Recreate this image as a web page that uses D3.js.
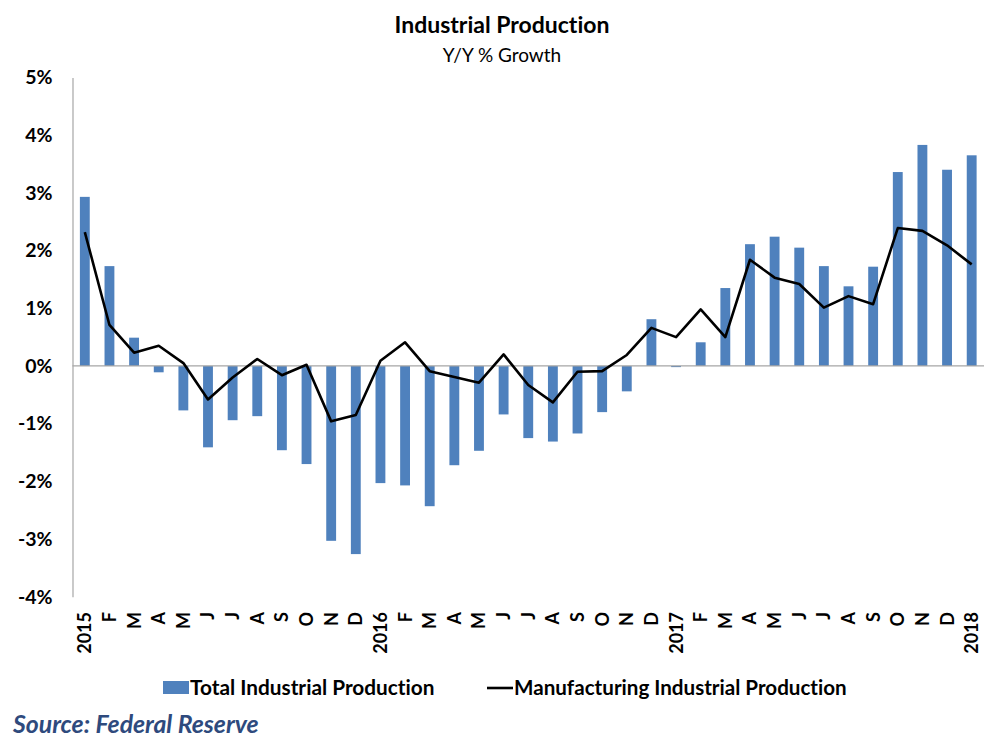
<!DOCTYPE html>
<html>
<head>
<meta charset="utf-8">
<script src="https://cdn.jsdelivr.net/npm/d3@7"></script>
<style>
  body { margin: 0; background: #fff; }
  svg { font-family: Lato, "Open Sans", sans-serif; font-variant-ligatures: none; }
</style>
</head>
<body>
<svg width="1000" height="756"></svg>
<script>
// month labels along the bottom
var months = ["2015", "F", "M", "A", "M", "J", "J", "A", "S", "O", "N", "D",
              "2016", "F", "M", "A", "M", "J", "J", "A", "S", "O", "N", "D",
              "2017", "F", "M", "A", "M", "J", "J", "A", "S", "O", "N", "D",
              "2018"];

// Y/Y % growth, total industrial production (bars)
var totalIP = [2.93, 1.73, 0.49, -0.11, -0.77, -1.41, -0.94, -0.87, -1.46, -1.70, -3.03, -3.26,
               -2.03, -2.07, -2.43, -1.72, -1.47, -0.84, -1.25, -1.31, -1.17, -0.80, -0.44, 0.81,
               -0.02, 0.41, 1.35, 2.11, 2.24, 2.05, 1.73, 1.38, 1.72, 3.36, 3.83, 3.40,
               3.65];

// Y/Y % growth, manufacturing industrial production (line)
var mfgIP = [2.32, 0.71, 0.23, 0.35, 0.05, -0.58, -0.20, 0.12, -0.16, 0.02, -0.96, -0.85,
             0.09, 0.41, -0.09, -0.19, -0.29, 0.20, -0.33, -0.63, -0.10, -0.09, 0.19, 0.66,
             0.50, 0.98, 0.50, 1.84, 1.53, 1.42, 1.01, 1.21, 1.07, 2.39, 2.34, 2.09,
             1.76];

var yTicks = [5, 4, 3, 2, 1, 0, -1, -2, -3, -4];

var svg = d3.select("svg");
var idx = d3.range(months.length);

var x = d3.scaleBand()
    .domain(idx)
    .range([72.5, 984])
    .paddingInner(0.6)
    .paddingOuter(0.3);

var y = d3.scaleLinear()
    .domain([-4, 5])
    .range([596.8, 77.4]);

function cx(i) { return x(i) + x.bandwidth() / 2; }

// titles
svg.append("text")
    .attr("x", 502).attr("y", 33)
    .attr("text-anchor", "middle")
    .attr("font-size", 23).attr("font-weight", "bold")
    .text("Industrial Production");
svg.append("text")
    .attr("x", 502).attr("y", 62)
    .attr("text-anchor", "middle")
    .attr("font-size", 19)
    .text("Y/Y % Growth");

// y axis
var yAxis = d3.axisLeft(y)
    .tickValues(yTicks)
    .tickSize(0)
    .tickPadding(20)
    .tickFormat(function(d) { return d + "%"; });

var gy = svg.append("g")
    .attr("transform", "translate(72.5,0)")
    .call(yAxis);
gy.select(".domain").attr("stroke", "#a6a6a6").attr("stroke-width", 1.2);
gy.selectAll("text")
    .attr("font-size", 19.5).attr("font-weight", "bold").attr("fill", "#000")
    .attr("font-family", "Lato, sans-serif");

// bars
svg.append("g").selectAll("rect")
    .data(totalIP)
    .join("rect")
    .attr("x", function(d, i) { return x(i); })
    .attr("width", x.bandwidth())
    .attr("y", function(d) { return y(Math.max(0, d)); })
    .attr("height", function(d) { return Math.abs(y(d) - y(0)); })
    .attr("fill", "#4f81bd");

// zero line
svg.append("line")
    .attr("x1", 72.5).attr("x2", 984)
    .attr("y1", y(0)).attr("y2", y(0))
    .attr("stroke", "#a6a6a6").attr("stroke-width", 1.2);

// manufacturing line
var line = d3.line()
    .x(function(d, i) { return cx(i); })
    .y(function(d) { return y(d); });

svg.append("path")
    .datum(mfgIP)
    .attr("d", line)
    .attr("fill", "none")
    .attr("stroke", "#000")
    .attr("stroke-width", 2.6)
    .attr("stroke-linejoin", "round");

// x labels, rotated
var xAxis = d3.axisBottom(x)
    .tickSize(0)
    .tickFormat(function(i) { return months[i]; });

var gx = svg.append("g")
    .attr("transform", "translate(0,612)")
    .call(xAxis);
gx.select(".domain").remove();
gx.selectAll("text")
    .attr("font-size", 18).attr("font-weight", "bold").attr("fill", "#000")
    .attr("font-family", "Lato, sans-serif")
    .attr("text-anchor", "end")
    .attr("transform", "rotate(-90)")
    .attr("x", 0).attr("y", 0).attr("dy", "0.36em");

// legend
var lg = svg.append("g");
lg.append("rect")
    .attr("x", 163).attr("y", 681).attr("width", 26).attr("height", 13)
    .attr("fill", "#4f81bd");
lg.append("text")
    .attr("x", 190).attr("y", 695)
    .attr("font-size", 20.8).attr("font-weight", "bold")
    .text("Total Industrial Production");
lg.append("line")
    .attr("x1", 487).attr("x2", 513).attr("y1", 688).attr("y2", 688)
    .attr("stroke", "#000").attr("stroke-width", 2.6);
lg.append("text")
    .attr("x", 514).attr("y", 695)
    .attr("font-size", 20.6).attr("font-weight", "bold")
    .text("Manufacturing Industrial Production");

// source note
svg.append("text")
    .attr("x", 13).attr("y", 733)
    .attr("font-size", 24.8).attr("font-weight", "bold").attr("font-style", "italic")
    .attr("fill", "#2e4a7d")
    .text("Source: Federal Reserve");
</script>
</body>
</html>
